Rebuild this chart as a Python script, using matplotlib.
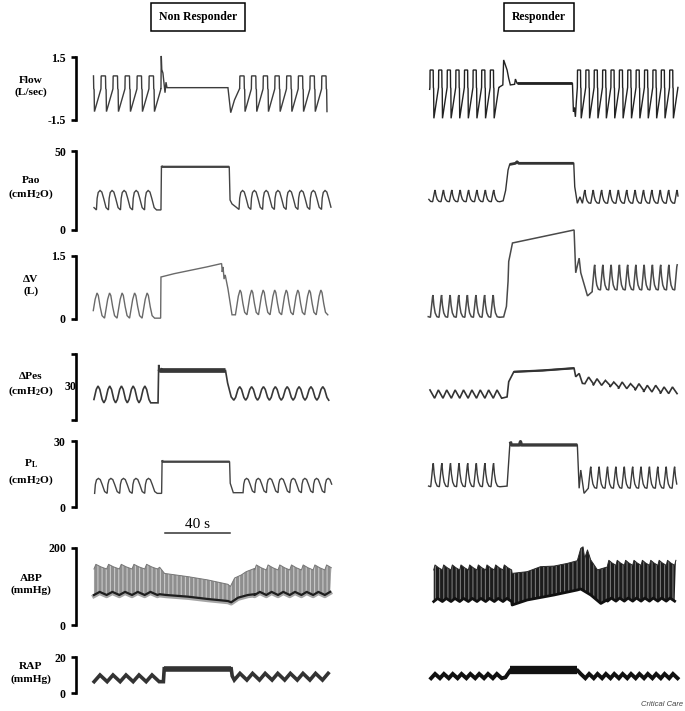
import numpy as np
import matplotlib
matplotlib.use("Agg")
import matplotlib.pyplot as plt
import matplotlib.transforms as mtransforms

plt.rcParams['font.family'] = ['Liberation Serif', 'DejaVu Serif']
plt.rcParams['mathtext.fontset'] = 'custom'
plt.rcParams['mathtext.rm'] = 'Liberation Serif:bold'
plt.rcParams['mathtext.it'] = 'Liberation Serif:bold'
plt.rcParams['mathtext.default'] = 'rm'
plt.rcParams['hatch.linewidth'] = 0.8

# ---- data (time in s, 40 s scale bar) ----
# pre = (start, period, n breaths, trough, peak)   post = (period, n, trough, peak)
# thick = stretch of the hold drawn with the heavier pen
SPAN_NR = (0, 147)
SPAN_R = (0, 153)
SCALE_BAR_S = 40
SCALE_BAR_START = 44.3

flow_nr = dict(pre=(-2.5, 7.38, 6, -1.1, 0.6),
               hold_t=[41.8, 42.0, 42.3, 43.0, 44.3, 44.9, 45.5, 83.0, 84.7, 87.0, 90.2],
               hold_y=[-0.02, 1.55, 0.9, 0.74, -0.2, 0.3, 0.04, 0.04, -1.15, -0.55, 0.0],
               post=(7.2, 9, -1.1, 0.6))
flow_r = dict(pre=(-4.1, 5.27, 9, -1.42, 0.88),
              hold_t=[43.3, 45.8, 46.3, 48.4, 49.4, 50.4, 53.0, 53.5, 54.5, 88.4, 89.0, 89.6, 90.2, 90.8, 91.4],
              hold_y=[0.05, 0.17, 1.36, 0.88, 0.48, 0.17, 0.2, 0.45, 0.25, 0.25, -1.1, -0.9, -1.35, -0.6, 0.0],
              post=(5.13, 12, -1.42, 0.88), thick=(54.5, 88.4))

pao_nr = dict(pre=(-5.3, 7.4, 6, 12.7, 25.0),
              hold_t=[41.8, 42.1, 42.6, 83.8, 84.3, 85.5, 88.0, 89.8],
              hold_y=[12.7, 40.5, 40.0, 40.0, 19.0, 16.5, 14.5, 13.0],
              post=(7.25, 8, 13.0, 25.0), thick=(42.1, 83.8))
pao_r = dict(pre=(-2.3, 5.13, 9, 17.9, 25.3),
             hold_t=[43.9, 46.0, 47.5, 49.0, 50.0, 53.5, 54.5, 55.5, 89.2, 89.8, 91.4, 93.0, 94.5],
             hold_y=[17.9, 18.5, 25.0, 38.0, 41.5, 42.2, 43.2, 42.2, 42.2, 27.4, 16.9, 21.0, 16.9],
             post=(5.13, 12, 16.9, 25.3), thick=(50.0, 89.2))

dv_nr = dict(pre=(-0.6, 7.7, 5, 0.02, 0.62),
             hold_t=[41.6, 41.8, 50, 60, 70, 79.1, 79.5, 80.0, 80.6, 81.3, 83.0, 85.5, 87.6],
             hold_y=[0.02, 1.0, 1.08, 1.16, 1.24, 1.32, 1.12, 1.24, 0.95, 1.05, 0.72, 0.1, 0.1],
             post=(7.1, 8, 0.1, 0.69))
dv_r = dict(pre=(-3.8, 5.27, 9, 0.04, 0.57),
            hold_t=[43.6, 46.3, 48.0, 49.0, 49.4, 51.7, 89.4, 90.4, 92.5, 93.5, 97.6, 100.5],
            hold_y=[0.04, 0.05, 0.3, 0.9, 1.37, 1.81, 2.12, 1.1, 1.45, 1.1, 0.55, 0.65],
            post=(5.05, 11, 0.69, 1.29))

pes_nr = dict(pre=(-0.5, 7.2, 5, 25.2, 30.3),
              hold_t=[40.0, 40.4, 40.9, 41.5, 81.5, 82.8, 85.0, 86.6],
              hold_y=[25.2, 36.7, 35.5, 35.0, 35.0, 31.2, 27.0, 26.0],
              post=(7.3, 8, 26.0, 30.1), thick=(40.9, 81.5))
pes_r = dict(pre=(-1.1, 5.13, 9, 26.6, 29.1),
             hold_t=[45.1, 48.4, 49.4, 52.5, 70.0, 89.4, 90.4, 92.5, 94.5, 96.0],
             hold_y=[26.6, 27.0, 31.6, 34.6, 35.0, 35.7, 33.1, 34.1, 31.1, 31.0],
             post=(5.13, 11,
                   [31.0, 30.5, 30.5, 30.0, 29.5, 29.5, 29.0, 28.5, 28.5, 28.0, 28.0],
                   [33.0, 32.5, 32.0, 31.5, 31.5, 31.0, 31.0, 30.5, 30.5, 30.0, 30.0]),
             thick=(52.5, 89.4))

pl_nr = dict(pre=(-6.7, 7.7, 6, 6.2, 13.0),
             hold_t=[42.2, 42.5, 43.0, 84.0, 84.4, 86.3, 92.3],
             hold_y=[6.2, 21.2, 20.6, 20.6, 10.8, 6.5, 6.5],
             post=(7.17, 8, 6.5, 13.0), thick=(42.5, 84.0))
pl_r = dict(pre=(-3.6, 5.27, 9, 9.2, 19.9),
            hold_t=[43.8, 48.4, 50.0, 50.4, 51.0, 56.0, 56.6, 57.2, 91.4, 92.5, 93.5, 95.5, 98.1],
            hold_y=[9.2, 9.5, 27.5, 29.7, 28.2, 28.2, 29.7, 28.2, 28.2, 8.5, 16.8, 6.2, 8.5],
            post=(5.13, 11, 8.5, 18.3), thick=(50.4, 91.4))

abp_top_nr = dict(pre=(-7.2, 7.8, 6, 145.5, 157.6),
                  hold_t=[39.6, 41.0, 44.0, 58.4, 70.7, 83.0, 84.5, 87.1, 91.2, 94.2, 99.4],
                  hold_y=[145.5, 150, 134, 125.6, 117, 105.7, 100, 122, 130, 138.5, 147],
                  post=(7.2, 7, 143, 156))
abp_bot_nr = dict(pre=(-7.2, 7.8, 6, 78, 86),
                  hold_t=[39.6, 41.0, 44.9, 58.4, 70.7, 83.0, 85.0, 89.2, 95.3, 99.4],
                  hold_y=[78, 80, 78, 73.6, 67.5, 62.3, 59, 71, 78, 80],
                  post=(7.2, 7, 78, 86))
abp_top_r = dict(pre=(3.5, 5.3, 9, 143, 156),
                 hold_t=[51.2, 51.5, 60.7, 68.9, 77.1, 85.3, 91.4, 93.5, 94.9, 95.9, 97.6, 99.6, 103.7, 109.9],
                 hold_y=[143, 134, 138.5, 151.5, 153, 160, 167, 199, 203, 173, 195, 169, 143, 151],
                 post=(5.13, 9, 155, 168))
abp_bot_r = dict(pre=(3.5, 5.3, 9, 61, 69),
                 hold_t=[51.2, 51.5, 60.7, 77.1, 91.4, 93.5, 99.6, 105.8, 109.9],
                 hold_y=[61, 52, 65, 78, 91, 93.5, 78, 56, 66],
                 post=(5.13, 9, 62, 70))

rap_nr = dict(pre=(-7.3, 8.0, 6, 6.3, 10.0),
              hold_t=[40.7, 43.3, 43.8, 85.0, 85.6, 86.9],
              hold_y=[6.3, 6.3, 13.5, 13.5, 9.5, 7.2],
              post=(7.75, 8, 7.2, 10.9), thick=(43.8, 85.0))
rap_r = dict(pre=(-3.5, 5.4, 9, 8.2, 10.6),
             hold_t=[45.1, 47.4, 50.4, 91.4, 93.5, 96.3],
             hold_y=[8.2, 8.7, 12.6, 12.6, 10.6, 8.2],
             post=(5.13, 12, 8.2, 10.6), thick=(50.4, 91.4))

# one breath, as (fraction of cycle, fraction of trough->peak)
FLOW_SHAPE = ([0, 0.02, 0.38, 0.40, 0.43, 0.46, 0.97, 1.0], [0.64, 1.0, 1.0, 0.64, 0.62, 0.0, 0.6, 0.64])
HUMP_SHAPE = ([0, 0.06, 0.15, 0.3, 0.45, 0.6, 0.8, 1.0], [0, 0.6, 0.9, 1.0, 0.92, 0.6, 0.12, 0])
WAVE_SHAPE = ([0, 0.1, 0.25, 0.4, 0.5, 0.65, 0.8, 1.0], [0, 0.3, 0.75, 1.0, 0.9, 0.45, 0.1, 0])
SINE_SHAPE = ([0, 0.15, 0.35, 0.5, 0.65, 0.85, 1.0], [0, 0.2, 0.8, 1.0, 0.8, 0.2, 0])
SPIKE_SHAPE = ([0, 0.15, 0.25, 0.3, 0.4, 0.55, 0.75, 1.0], [0, 0.55, 0.92, 1.0, 0.55, 0.2, 0.03, 0])
ZIGZAG = ([0, 0.45, 1.0], [0, 1, 0])
SCALLOP = ([0, 0.15, 0.55, 1.0], [0, 1.0, 0.45, 0])

row_labels = ['Flow\n(L/sec)', 'Pao\n(cmH$_2$O)', '\u0394V\n(L)', '\u0394Pes\n(cmH$_2$O)',
              'P$_L$\n(cmH$_2$O)', 'ABP\n(mmHg)', 'RAP\n(mmHg)']
row_ylim = [(-1.5, 1.5), (0, 50), (0, 1.5), (20, 40), (0, 30), (0, 200), (0, 20)]
row_ticklabels = [['-1.5', '1.5'], ['0', '50'], ['0', '1.5'], ['', ''], ['0', '30'], ['0', '200'], ['0', '20']]


def cycles(start, period, n, lo, hi, shape):
    frac, lev = np.array(shape[0]), np.array(shape[1])
    lo, hi = np.atleast_1d(lo), np.atleast_1d(hi)
    t, y = [], []
    for i in range(n):
        a = lo[min(i, len(lo) - 1)]
        b = hi[min(i, len(hi) - 1)]
        t.append(start + (i + frac) * period)
        y.append(a + lev * (b - a))
    return np.concatenate(t), np.concatenate(y)


def build(tr, shape, span):
    t1, y1 = cycles(*tr['pre'], shape)
    t3, y3 = cycles(tr['hold_t'][-1], *tr['post'], shape)
    t = np.r_[t1, tr['hold_t'], t3]
    y = np.r_[y1, tr['hold_y'], y3]
    keep = (t >= span[0]) & (t <= span[1])
    return t[keep], y[keep]


def draw(ax, tr, shape, span, color, lw=1.0, hold_lw=None):
    t, y = build(tr, shape, span)
    ax.plot(t, y, color=color, lw=lw, clip_on=False, solid_joinstyle='miter')
    if hold_lw and 'thick' in tr:
        ht, hy = np.array(tr['hold_t']), np.array(tr['hold_y'])
        k = (ht >= tr['thick'][0]) & (ht <= tr['thick'][1])
        ax.plot(ht[k], hy[k], color=color, lw=hold_lw, clip_on=False, solid_capstyle='butt')


# ---- layout (pixels of the 685x711 picture) ----
W, H = 685, 711
fig = plt.figure(figsize=(W / 100, H / 100), dpi=100)
rows_px = [(57, 120), (151, 230), (256, 319), (354, 420), (441, 507), (548, 625), (657, 693)]


def add_ax(x0, x1, ytop, ybot):
    return fig.add_axes([x0 / W, 1 - ybot / H, (x1 - x0) / W, (ybot - ytop) / H])


left_axes, right_axes = [], []
for i, (yt, yb) in enumerate(rows_px):
    axl = add_ax(93, 332, yt, yb)
    axr = add_ax(428, 678, yt, yb)
    axl.set_xlim(*SPAN_NR)
    axr.set_xlim(*SPAN_R)
    for ax in (axl, axr):
        ax.set_ylim(*row_ylim[i])
        ax.patch.set_visible(False)
        for s in ['top', 'right', 'bottom']:
            ax.spines[s].set_visible(False)
        ax.set_xticks([])
    axr.spines['left'].set_visible(False)
    axr.set_yticks([])
    axl.spines['left'].set_position(('outward', 12))
    axl.spines['left'].set_linewidth(1.9)
    axl.set_yticks(row_ylim[i])
    axl.set_yticklabels(row_ticklabels[i], fontsize=8.5, fontweight='bold')
    axl.tick_params(axis='y', direction='out', length=3.5, width=1.9, pad=4)
    fig.text(31 / W, 1 - ((yt + yb) / 2 - 2) / H, row_labels[i], ha='center', va='center',
             fontsize=8.2, fontweight='bold', linespacing=1.35)
    left_axes.append(axl)
    right_axes.append(axr)

# the middle "30" of the esophageal pressure bracket
left_axes[3].text(-0.068, 0.5, '30', transform=left_axes[3].transAxes, ha='right', va='center',
                  fontsize=8.5, fontweight='bold')

# ---- traces ----
draw(left_axes[0], flow_nr, FLOW_SHAPE, SPAN_NR, '#3c3c3c')
draw(right_axes[0], flow_r, FLOW_SHAPE, SPAN_R, '#222222', hold_lw=2.0)
draw(left_axes[1], pao_nr, HUMP_SHAPE, SPAN_NR, '#444444', hold_lw=1.6)
draw(right_axes[1], pao_r, SPIKE_SHAPE, SPAN_R, '#333333', hold_lw=2.0)
draw(left_axes[2], dv_nr, WAVE_SHAPE, SPAN_NR, '#6a6a6a')
draw(right_axes[2], dv_r, SPIKE_SHAPE, SPAN_R, '#4a4a4a', lw=1.1)
draw(left_axes[3], pes_nr, SINE_SHAPE, SPAN_NR, '#383838', lw=1.2, hold_lw=3.4)
draw(right_axes[3], pes_r, ZIGZAG, SPAN_R, '#333333', lw=1.2, hold_lw=1.6)
draw(left_axes[4], pl_nr, HUMP_SHAPE, SPAN_NR, '#444444', hold_lw=1.6)
draw(right_axes[4], pl_r, SPIKE_SHAPE, SPAN_R, '#3a3a3a', hold_lw=2.4)
draw(left_axes[6], rap_nr, ZIGZAG, SPAN_NR, '#333333', lw=2.6, hold_lw=4.0)
draw(right_axes[6], rap_r, ZIGZAG, SPAN_R, '#111111', lw=2.8, hold_lw=6.0)

# arterial pressure: band between systolic and diastolic envelopes
for ax, top, bot, span, fc, hc, under in [
        (left_axes[5], abp_top_nr, abp_bot_nr, SPAN_NR, '#8e8e8e', '#c9c9c9', '#a5a5a5'),
        (right_axes[5], abp_top_r, abp_bot_r, SPAN_R, '#1c1c1c', '#777777', None)]:
    tt, yt_ = build(top, SCALLOP, span)
    tb, yb_ = build(bot, ZIGZAG, span)
    ax.fill(np.r_[tt, tb[::-1]], np.r_[yt_, yb_[::-1]], facecolor=fc, edgecolor=hc,
            hatch='||||', lw=0, clip_on=False)
    ax.plot(tt, yt_, color='#777777' if under else '#2a2a2a', lw=0.7, clip_on=False)
    if under:
        ax.plot(tb, yb_ - 3, color=under, lw=3.0, clip_on=False)
        ax.plot(tb, yb_, color='#1e1e1e', lw=1.6, clip_on=False)
    else:
        ax.plot(tb, yb_, color='#111111', lw=2.0, clip_on=False)

# 40 s scale bar above the left ABP panel
ax = left_axes[5]
tr_bar = mtransforms.blended_transform_factory(ax.transData, ax.transAxes)
ax.plot([SCALE_BAR_START, SCALE_BAR_START + SCALE_BAR_S], [1.195, 1.195], color='#333333',
        lw=1.1, transform=tr_bar, clip_on=False)
ax.text(SCALE_BAR_START + SCALE_BAR_S / 2, 1.31, '%d s' % SCALE_BAR_S, transform=tr_bar,
        ha='center', va='center', fontsize=11)

# group headings
box = dict(boxstyle='square,pad=0.7', fc='white', ec='black', lw=1.1)
fig.text(198 / W, 1 - 17 / H, 'Non Responder', ha='center', va='center', fontsize=8.5,
         fontweight='bold', bbox=box)
fig.text(539 / W, 1 - 17 / H, 'Responder', ha='center', va='center', fontsize=8.5,
         fontweight='bold', bbox=box)
fig.text(683 / W, 1 - 704 / H, 'Critical Care', ha='right', va='center', fontsize=5.5,
         style='italic', family=['Liberation Sans', 'DejaVu Sans'], color='#444444')

fig.savefig('out.png', dpi=100)
